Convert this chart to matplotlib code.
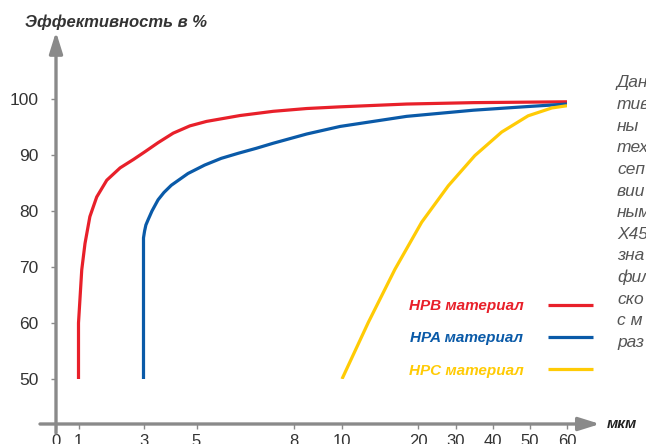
import matplotlib.pyplot as plt
import numpy as np

# Data
x_ticks = [0, 1, 3, 5, 8, 10, 20, 30, 40, 50, 60]
y_ticks = [50, 60, 70, 80, 90, 100]

hpb_x = [1, 1, 1.1, 1.2, 1.35, 1.56, 1.87, 2.28, 2.69, 3.06, 3.55, 4.12, 4.75, 5.31, 6.34, 7.36, 8.53, 9.92, 18.5, 34.7, 60]
hpb_y = [50, 60, 69.5, 74.2, 79.0, 82.5, 85.5, 87.7, 89.2, 90.6, 92.2, 93.9, 95.2, 96.0, 97.05, 97.8, 98.3, 98.6, 99.1, 99.35, 99.5]

hpa_x = [3, 3, 3.0, 3.04, 3.09, 3.17, 3.32, 3.55, 3.77, 4.05, 4.68, 5.25, 5.76, 6.28, 6.84, 7.36, 8.53, 9.92, 18.5, 34.7, 48.2, 60]
hpa_y = [50, 74.3, 75.2, 76.4, 77.5, 78.4, 80.0, 82.0, 83.3, 84.6, 86.7, 88.2, 89.4, 90.3, 91.2, 92.1, 93.75, 95.1, 96.9, 98.0, 98.6, 99.1]

hpc_x = [10, 13.46, 16.97, 20.97, 27.97, 35.1, 42.35, 49.5, 55.9, 60]
hpc_y = [50, 60.1, 69.6, 78.0, 84.5, 89.9, 94.1, 97.0, 98.4, 98.8]

labels = ['HPB материал', 'HPA материал', 'HPC материал']
colors = ['#e8202a', '#0a5aa8', '#ffcb05']

side_text = ['Дан', 'тив', 'ны', 'тех', 'сеп', 'вии', 'ным', 'X45', 'зна', 'фил', 'ско', 'с м', 'раз']

# uneven x axis of the original drawing (tick spacing in pixels)
tick_spacing = [0, 22.5, 87.5, 140.5, 238, 286, 362, 400, 437, 474, 511]

def fwd(x):
    return np.interp(x, x_ticks, tick_spacing)

def inv(p):
    return np.interp(p, tick_spacing, x_ticks)

plt.rcParams['font.family'] = ['Liberation Sans', 'DejaVu Sans']
gray = '#8a8a8a'
txt = '#333333'

fig = plt.figure(figsize=(6.46, 4.44), dpi=100)
ax = fig.add_axes([56/646, 65/444, 511/646, 280/444])
ax.set_xscale('function', functions=(fwd, inv))

lines = []
for xs, ys, c, lab in zip([hpb_x, hpa_x, hpc_x], [hpb_y, hpa_y, hpc_y], colors, labels):
    l, = ax.plot(xs, ys, color=c, lw=2.3, label=lab, solid_capstyle='butt', solid_joinstyle='round')
    lines.append(l)

ax.set_xlim(0, 60)
ax.set_ylim(50, 100)
ax.set_xticks(x_ticks)
ax.set_yticks(y_ticks)
for s in ax.spines.values():
    s.set_color('none')
ax.spines['bottom'].set_position(('axes', -45/280))
ax.tick_params(axis='both', colors=gray, labelcolor=txt, labelsize=12, length=3.5, width=1, direction='out')
ax.tick_params(axis='x', pad=4)
ax.tick_params(axis='y', labelsize=12.5, pad=9)

# arrow axes
arrow = dict(arrowstyle='-|>,head_length=0.8,head_width=0.25', color=gray, lw=2.4,
             mutation_scale=16, shrinkA=0, shrinkB=0)
ax.annotate('', xy=(0, 1.24), xytext=(0, -0.193), xycoords='axes fraction',
            arrowprops=arrow, annotation_clip=False)
ax.annotate('', xy=(1.0646, -45/280), xytext=(-0.0313, -45/280), xycoords='axes fraction',
            arrowprops=arrow, annotation_clip=False)

fig.text(25/646, 1 - 22/444, 'Эффективность в %', fontsize=12, fontweight='bold',
         style='italic', color=txt, va='center', ha='left')
fig.text(607/646, 1 - 424/444, 'мкм', fontsize=11, fontweight='bold',
         style='italic', color='#222222', va='center', ha='left')

ax.legend(handles=lines, loc='center right', bbox_to_anchor=(593/646, 1 - 338.3/444),
          bbox_transform=fig.transFigure, frameon=False, markerfirst=False,
          labelcolor='linecolor', prop=dict(size=11, weight='bold', style='italic'),
          handlelength=2.95, handletextpad=1.6, labelspacing=1.2,
          borderpad=0, borderaxespad=0)

for i, t in enumerate(side_text):
    fig.text(617/646, 1 - (83 + 21.6*i)/444, t, fontsize=12.5, style='italic',
             color='#555555', va='center', ha='left')

fig.savefig('out.png', dpi=100)
